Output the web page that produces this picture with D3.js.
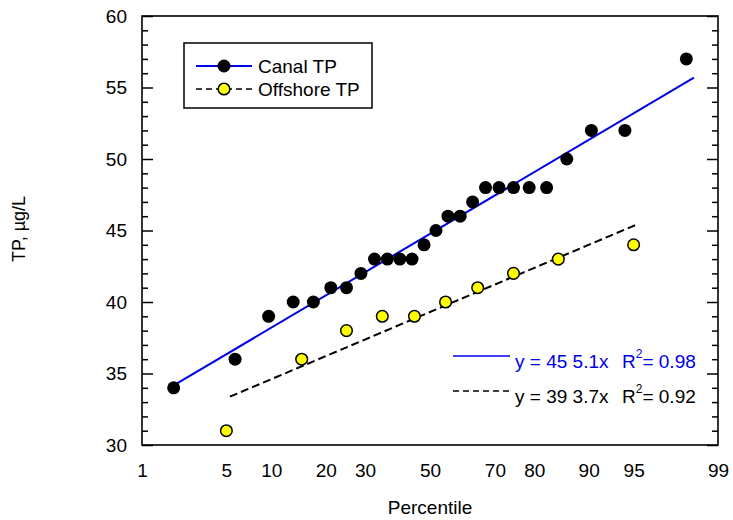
<!DOCTYPE html>
<html><head><meta charset="utf-8">
<script src="https://cdn.jsdelivr.net/npm/d3@7"></script>
<style>body{margin:0;background:#fff}text{font-family:"Liberation Sans",Arial,sans-serif}</style>
</head><body>
<svg id="chart" width="733" height="520"></svg>
<script>
// ---- data ----
const xTickLabels = [1, 5, 10, 20, 30, 50, 70, 80, 90, 95, 99];
const yMajorTicks = [30, 35, 40, 45, 50, 55, 60];
const canalPct = [1.92, 5.77, 9.62, 13.46, 17.31, 21.15, 25.00, 28.85, 32.69, 36.54, 40.38, 44.23, 48.08, 51.92, 55.77, 59.62, 63.46, 67.31, 71.15, 75.00, 78.85, 82.69, 86.54, 90.38, 94.23, 98.08];
const canalTP = [34, 36, 39, 40, 40, 41, 41, 42, 43, 43, 43, 43, 44, 45, 46, 46, 47, 48, 48, 48, 48, 48, 50, 52, 52, 57];
const offshorePct = [5, 15, 25, 35, 45, 55, 65, 75, 85, 95];
const offshoreTP = [31, 36, 38, 39, 39, 40, 41, 42, 43, 44];
const canalFitRange = [1.92, 98.35];
const offshoreFitRange = [5.3, 95.4];
const seriesNames = ["Canal TP", "Offshore TP"];
const eqTexts = [["y = 45 5.1x", "R", "= 0.98"], ["y = 39 3.7x", "R", "= 0.92"]];

// inverse normal CDF (Acklam)
function probit(p) {
  const a = [-3.969683028665376e+01, 2.209460984245205e+02, -2.759285104469687e+02, 1.383577518672690e+02, -3.066479806614716e+01, 2.506628277459239e+00];
  const b = [-5.447609879822406e+01, 1.615858368580409e+02, -1.556989798598866e+02, 6.680131188771972e+01, -1.328068155288572e+01];
  const c = [-7.784894002430293e-03, -3.223964580411365e-01, -2.400758277161838e+00, -2.549732539343734e+00, 4.374664141464968e+00, 2.938163982698783e+00];
  const d = [7.784695709041462e-03, 3.224671290700398e-01, 2.445134137142996e+00, 3.754408661907416e+00];
  const pl = 0.02425, ph = 1 - pl;
  let q, r;
  if (p < pl) { q = Math.sqrt(-2 * Math.log(p)); return (((((c[0]*q+c[1])*q+c[2])*q+c[3])*q+c[4])*q+c[5])/((((d[0]*q+d[1])*q+d[2])*q+d[3])*q+1); }
  if (p <= ph) { q = p - 0.5; r = q*q; return (((((a[0]*r+a[1])*r+a[2])*r+a[3])*r+a[4])*r+a[5])*q/(((((b[0]*r+b[1])*r+b[2])*r+b[3])*r+b[4])*r+1); }
  q = Math.sqrt(-2 * Math.log(1 - p)); return -(((((c[0]*q+c[1])*q+c[2])*q+c[3])*q+c[4])*q+c[5])/((((d[0]*q+d[1])*q+d[2])*q+d[3])*q+1);
}
const z = pct => probit(pct / 100);

const L = 142, R = 718, T = 16, B = 445;
const svg = d3.select("#chart");
const xz = d3.scaleLinear().domain([z(1), z(99)]).range([L, R]);
const x = pct => xz(z(pct));
const y = d3.scaleLinear().domain([30, 60]).range([B, T]);
const blue = "#0000e6";
const FONT = '"Liberation Sans",Arial,sans-serif';

// frame
svg.append("rect").attr("x", L).attr("y", T).attr("width", R - L).attr("height", B - T)
  .attr("fill", "none").attr("stroke", "#000").attr("stroke-width", 1.6);

// y axes with inward ticks
const minorVals = d3.range(30, 61, 1).filter(v => v % 5 !== 0);
const yl = svg.append("g").attr("transform", `translate(${L},0)`)
  .call(d3.axisLeft(y).tickValues(yMajorTicks).tickSize(-11).tickPadding(15));
yl.select(".domain").remove();
yl.selectAll("text").attr("font-size", 19).attr("fill", "#000").style("font-family", FONT);
yl.selectAll("line").attr("stroke-width", 1.5);
const ylm = svg.append("g").attr("transform", `translate(${L},0)`)
  .call(d3.axisLeft(y).tickValues(minorVals).tickSize(-6).tickFormat(""));
ylm.select(".domain").remove(); ylm.selectAll("line").attr("stroke-width", 1.5);
const yr = svg.append("g").attr("transform", `translate(${R},0)`)
  .call(d3.axisRight(y).tickValues(yMajorTicks).tickSize(-11).tickFormat(""));
yr.select(".domain").remove(); yr.selectAll("line").attr("stroke-width", 1.5);
const yrm = svg.append("g").attr("transform", `translate(${R},0)`)
  .call(d3.axisRight(y).tickValues(minorVals).tickSize(-6).tickFormat(""));
yrm.select(".domain").remove(); yrm.selectAll("line").attr("stroke-width", 1.5);

// x axis labels (no ticks)
const xa = svg.append("g").attr("transform", `translate(0,${B})`)
  .call(d3.axisBottom(xz).tickValues(xTickLabels.map(z)).tickSize(0).tickPadding(19)
    .tickFormat((d, i) => xTickLabels[i]));
xa.select(".domain").remove();
xa.selectAll("text").attr("font-size", 19).attr("fill", "#000").style("font-family", FONT);

// axis titles
svg.append("text").attr("x", 430).attr("y", 514).attr("text-anchor", "middle")
  .attr("font-size", 19).attr("fill", "#000").text("Percentile");
svg.append("text").attr("transform", "translate(25,229) rotate(-90)").attr("text-anchor", "middle")
  .attr("font-size", 18).attr("fill", "#000").text("TP, µg/L");

// regression
function fit(pcts, vals) {
  const zs = pcts.map(z), mz = d3.mean(zs), mv = d3.mean(vals);
  const slope = d3.sum(zs, (v, i) => (v - mz) * (vals[i] - mv)) / d3.sum(zs, v => (v - mz) ** 2);
  return { slope, intercept: mv - slope * mz };
}
const cf = fit(canalPct, canalTP), of = fit(offshorePct, offshoreTP);
const line = d3.line().x(d => x(d[0])).y(d => y(d[1]));
svg.append("path").datum(canalFitRange.map(p => [p, cf.intercept + cf.slope * z(p)]))
  .attr("d", line).attr("fill", "none").attr("stroke", blue).attr("stroke-width", 2);
svg.append("path").datum(offshoreFitRange.map(p => [p, of.intercept + of.slope * z(p)]))
  .attr("d", line).attr("fill", "none").attr("stroke", "#000").attr("stroke-width", 2).attr("stroke-dasharray", "8,4");

// points
svg.append("g").selectAll("circle").data(canalPct).join("circle")
  .attr("cx", d => x(d)).attr("cy", (d, i) => y(canalTP[i])).attr("r", 6.5).attr("fill", "#000");
svg.append("g").selectAll("circle").data(offshorePct).join("circle")
  .attr("cx", d => x(d)).attr("cy", (d, i) => y(offshoreTP[i])).attr("r", 5.8)
  .attr("fill", "#ffff00").attr("stroke", "#000").attr("stroke-width", 1.5);

// legend
const lg = svg.append("g");
lg.append("rect").attr("x", 184).attr("y", 43).attr("width", 188).attr("height", 65)
  .attr("fill", "#fff").attr("stroke", "#000").attr("stroke-width", 1.5);
const legY = [66, 89];
lg.append("line").attr("x1", 196).attr("x2", 252).attr("y1", legY[0]).attr("y2", legY[0]).attr("stroke", blue).attr("stroke-width", 2);
lg.append("circle").attr("cx", 224).attr("cy", legY[0]).attr("r", 6.5).attr("fill", "#000");
lg.append("line").attr("x1", 196).attr("x2", 252).attr("y1", legY[1]).attr("y2", legY[1]).attr("stroke", "#000").attr("stroke-width", 1.5).attr("stroke-dasharray", "6,4");
lg.append("circle").attr("cx", 224).attr("cy", legY[1]).attr("r", 5.8).attr("fill", "#ffff00").attr("stroke", "#000").attr("stroke-width", 1.5);
seriesNames.forEach((n, i) => lg.append("text").attr("x", 258).attr("y", legY[i] + 7).attr("font-size", 19).attr("fill", "#000").text(n));

// equations
const eqY = [356, 391];
const eqCol = [blue, "#000"];
eqY.forEach((yy, i) => {
  svg.append("line").attr("x1", 453).attr("x2", 510).attr("y1", yy).attr("y2", yy)
    .attr("stroke", i === 0 ? blue : "#000").attr("stroke-width", 1.5).attr("stroke-dasharray", i === 0 ? null : "6,4");
  const t = svg.append("text").attr("x", 515).attr("y", yy + 12).attr("font-size", 19).attr("fill", eqCol[i]);
  t.append("tspan").text(eqTexts[i][0]);
  t.append("tspan").attr("x", 622).text(eqTexts[i][1]);
  t.append("tspan").attr("dx", 0).attr("dy", -10).attr("font-size", 12).text("2");
  t.append("tspan").attr("dx", 0).attr("dy", 10).text(eqTexts[i][2]);
});
</script>
</body></html>
